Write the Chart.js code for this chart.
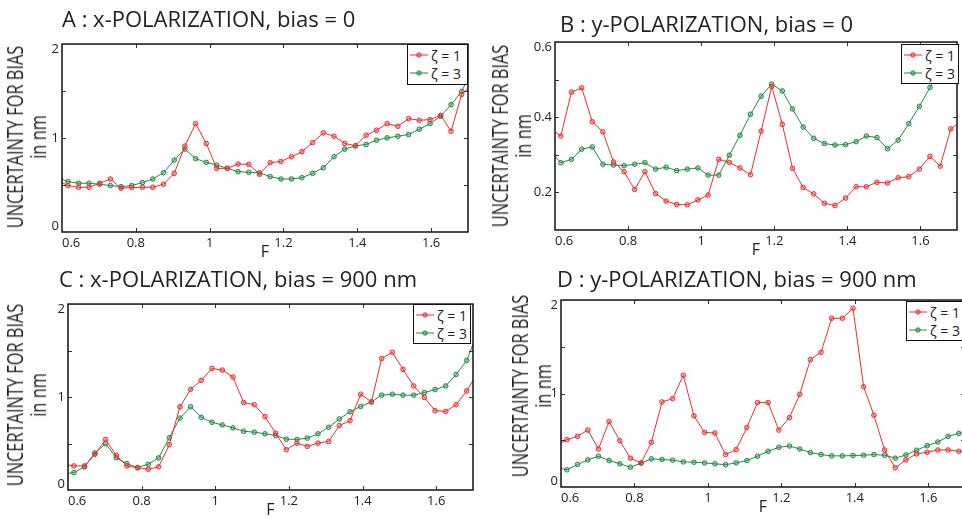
<!DOCTYPE html>
<html>
<head>
<meta charset="utf-8">
<script src="https://cdn.jsdelivr.net/npm/chart.js@4.4.1/dist/chart.umd.min.js"></script>
<style>
  body { margin: 0; background: #fff; }
  #page { position: relative; width: 962px; height: 519px; overflow: hidden; font-family: "Open Sans", sans-serif; color: #222; }
  canvas { position: absolute; }
  .title { position: absolute; font-size: 22px; line-height: 26px; white-space: nowrap; }
  .ylab { position: absolute; width: 0; height: 0; }
  .ylab div { position: absolute; left: 0; top: 0; transform: translate(-50%, -50%) rotate(-90deg) scaleX(0.78); text-align: center; font-size: 21px; line-height: 23px; white-space: nowrap; }
  .legend { position: absolute; background: #fff; border: 1.5px solid #111; box-sizing: border-box; font-size: 14px; padding: 1px 0 0 1px; }
  .legend .row { display: flex; align-items: center; height: 18px; }
  .legend span { margin-left: 2px; }
</style>
</head>
<body>
<div id="page"></div>
<script>
// F grid (same for every panel)
const F = [0.587, 0.616, 0.645, 0.673, 0.702, 0.731, 0.760, 0.789, 0.818, 0.846,
  0.875, 0.904, 0.933, 0.962, 0.991, 1.019, 1.048, 1.077, 1.106, 1.135,
  1.164, 1.193, 1.222, 1.250, 1.279, 1.308, 1.337, 1.366, 1.395, 1.424,
  1.452, 1.481, 1.510, 1.539, 1.568, 1.597, 1.626, 1.654, 1.683, 1.712];

const seriesNames = ["ζ = 1", "ζ = 3"];
const titles = [
  "A : x-POLARIZATION, bias = 0",
  "B : y-POLARIZATION, bias = 0",
  "C : x-POLARIZATION, bias = 900 nm",
  "D : y-POLARIZATION, bias = 900 nm",
];

// A : x-pol, bias 0
const aRed = [0.55, 0.494, 0.476, 0.476, 0.519, 0.564, 0.466, 0.473, 0.476, 0.476,
  0.508, 0.624, 0.914, 1.153, 0.942, 0.677, 0.677, 0.723, 0.720, 0.614,
  0.737, 0.751, 0.801, 0.854, 0.952, 1.055, 1.019, 0.942, 0.917, 1.030,
  1.083, 1.153, 1.125, 1.206, 1.189, 1.196, 1.242, 1.072, 1.464, 1.57];
const aGreen = [0.58, 0.536, 0.519, 0.519, 0.508, 0.494, 0.483, 0.494, 0.526, 0.564,
  0.631, 0.765, 0.882, 0.780, 0.741, 0.712, 0.677, 0.642, 0.635, 0.631,
  0.589, 0.564, 0.564, 0.578, 0.624, 0.684, 0.801, 0.882, 0.917, 0.931,
  0.977, 1.002, 1.019, 1.037, 1.093, 1.153, 1.231, 1.354, 1.496, 1.74];

// B : y-pol, bias 0
const bRed = [0.37, 0.350, 0.467, 0.478, 0.388, 0.361, 0.281, 0.255, 0.208, 0.255,
  0.197, 0.177, 0.168, 0.167, 0.180, 0.193, 0.288, 0.280, 0.265, 0.247,
  0.363, 0.482, 0.381, 0.264, 0.213, 0.196, 0.171, 0.165, 0.185, 0.215,
  0.215, 0.227, 0.225, 0.239, 0.242, 0.262, 0.296, 0.270, 0.369, 0.39];
const bGreen = [0.31, 0.279, 0.288, 0.315, 0.321, 0.275, 0.273, 0.271, 0.275, 0.279,
  0.262, 0.267, 0.258, 0.262, 0.265, 0.246, 0.246, 0.299, 0.352, 0.408,
  0.456, 0.488, 0.470, 0.422, 0.374, 0.344, 0.330, 0.326, 0.327, 0.335,
  0.350, 0.346, 0.316, 0.339, 0.383, 0.429, 0.479, 0.529, 0.565, 0.60];

// C : x-pol, bias 900 nm
const cRed = [0.28, 0.259, 0.259, 0.384, 0.544, 0.373, 0.259, 0.238, 0.224, 0.249,
  0.487, 0.895, 1.083, 1.179, 1.307, 1.290, 1.215, 0.941, 0.917, 0.790,
  0.611, 0.433, 0.504, 0.469, 0.504, 0.522, 0.693, 0.746, 1.030, 0.948,
  1.414, 1.481, 1.297, 1.119, 0.995, 0.853, 0.845, 0.917, 1.066, 1.26];
const cGreen = [0.17, 0.188, 0.249, 0.398, 0.497, 0.348, 0.284, 0.242, 0.277, 0.345,
  0.561, 0.774, 0.895, 0.782, 0.728, 0.700, 0.668, 0.632, 0.622, 0.604,
  0.586, 0.547, 0.544, 0.558, 0.604, 0.675, 0.764, 0.842, 0.899, 0.948,
  1.020, 1.030, 1.020, 1.020, 1.048, 1.080, 1.119, 1.243, 1.393, 1.69];

// D : y-pol, bias 900 nm
const dRed = [0.44, 0.506, 0.542, 0.609, 0.407, 0.701, 0.496, 0.308, 0.258, 0.478,
  0.910, 0.945, 1.196, 0.761, 0.584, 0.577, 0.347, 0.400, 0.637, 0.903,
  0.903, 0.609, 0.743, 0.991, 1.363, 1.441, 1.805, 1.805, 1.912, 1.073,
  0.768, 0.396, 0.205, 0.290, 0.354, 0.372, 0.396, 0.396, 0.382, 0.38];
const dGreen = [0.21, 0.184, 0.241, 0.290, 0.329, 0.283, 0.248, 0.212, 0.255, 0.301,
  0.294, 0.287, 0.269, 0.265, 0.258, 0.248, 0.239, 0.258, 0.283, 0.329,
  0.382, 0.425, 0.439, 0.407, 0.368, 0.347, 0.333, 0.333, 0.336, 0.340,
  0.347, 0.340, 0.308, 0.343, 0.393, 0.442, 0.481, 0.542, 0.573, 0.60];

const xTicks = [0.6, 0.8, 1, 1.2, 1.4, 1.6];
const yTicksBig = [0, 0.5, 1, 1.5, 2];
const yLabelsBig = [0, 1, 2];
const yTicksB = [0.1, 0.2, 0.3, 0.4, 0.5, 0.6];
const yLabelsB = [0.2, 0.4, 0.6];

const RED = "rgb(238, 45, 45)";
const GREEN = "rgb(32, 138, 68)";

Chart.defaults.font.family = "'Open Sans', sans-serif";
Chart.defaults.color = "#222";

const panels = [
  { title: titles[0], red: aRed, green: aGreen, yMin: 0, yMax: 2, yTicks: yTicksBig, yLabels: yLabelsBig,
    box: [0, 30, 480, 232], yW: 62, padTop: 13, padRight: 12, titleAt: [62, 5], yLabAt: [26.5, 137], legendAt: [407, 44, 61, 41] },
  { title: titles[1], red: bRed, green: bGreen, yMin: 0.1, yMax: 0.6, yTicks: yTicksB, yLabels: yLabelsB,
    box: [480, 28, 482, 232], yW: 75, padTop: 14, padRight: 3, titleAt: [560, 10], yLabAt: [512, 136], legendAt: [901, 44, 58, 40] },
  { title: titles[2], red: cRed, green: cGreen, yMin: 0, yMax: 2, yTicks: yTicksBig, yLabels: yLabelsBig,
    box: [0, 290, 480, 230], yW: 68, padTop: 12, padRight: 7, titleAt: [59, 265], yLabAt: [27, 395], legendAt: [413, 304, 58, 40] },
  { title: titles[3], red: dRed, green: dGreen, yMin: 0, yMax: 2, yTicks: yTicksBig, yLabels: yLabelsBig,
    box: [480, 286, 490, 231], yW: 81, padTop: 12, padRight: 5, titleAt: [557, 264.5], yLabAt: [532, 386], legendAt: [906, 301, 58, 40] },
];

const near = (a, b) => Math.abs(a - b) < 1e-6;

// MATLAB-like box with inward ticks on all four sides
const boxPlugin = {
  id: "box",
  afterDraw(chart) {
    const { ctx, chartArea: a, scales } = chart;
    const { x, y } = scales;
    ctx.save();
    ctx.strokeStyle = "#333";
    ctx.lineWidth = 1;
    ctx.beginPath();
    x.ticks.forEach((t) => {
      if (near(t.value, x.max) || near(t.value, x.min)) return;
      const px = Math.round(x.getPixelForValue(t.value)) + 0.5;
      ctx.moveTo(px, a.bottom); ctx.lineTo(px, a.bottom - 4);
      ctx.moveTo(px, a.top); ctx.lineTo(px, a.top + 4);
    });
    y.ticks.forEach((t) => {
      if (near(t.value, y.max) || near(t.value, y.min)) return;
      const py = Math.round(y.getPixelForValue(t.value)) + 0.5;
      ctx.moveTo(a.left, py); ctx.lineTo(a.left + 4, py);
      ctx.moveTo(a.right, py); ctx.lineTo(a.right - 4, py);
    });
    ctx.stroke();
    ctx.strokeStyle = "#111";
    ctx.lineWidth = 1.5;
    ctx.strokeRect(a.left, a.top, a.right - a.left, a.bottom - a.top);
    ctx.restore();
  },
};

function lineSet(label, values, color, fill) {
  return {
    label: label,
    data: F.map((f, i) => ({ x: f, y: values[i] })),
    borderColor: color,
    borderWidth: 1,
    pointRadius: 2.3,
    pointBorderWidth: 1,
    pointBorderColor: color,
    pointBackgroundColor: fill,
    tension: 0,
  };
}

const page = document.getElementById("page");

panels.forEach((p) => {
  const [left, top, w, h] = p.box;
  const canvas = document.createElement("canvas");
  canvas.width = w;
  canvas.height = h;
  canvas.style.left = left + "px";
  canvas.style.top = top + "px";
  page.appendChild(canvas);

  new Chart(canvas.getContext("2d"), {
    type: "line",
    data: {
      datasets: [
        lineSet(seriesNames[0], p.red, RED, "rgba(238, 45, 45, 0.35)"),
        lineSet(seriesNames[1], p.green, GREEN, "rgba(32, 138, 68, 0.35)"),
      ],
    },
    options: {
      responsive: false,
      animation: false,
      layout: { padding: { top: p.padTop, right: p.padRight, left: 0, bottom: 0 } },
      plugins: { legend: { display: false }, tooltip: { enabled: false } },
      scales: {
        x: {
          type: "linear",
          min: 0.6,
          max: 1.7,
          afterBuildTicks: (s) => { s.ticks = [...xTicks, 1.7].map((v) => ({ value: v })); },
          afterFit: (s) => { s.height = 30; },
          grid: { display: false, drawTicks: false },
          border: { display: false },
          ticks: {
            autoSkip: false,
            maxRotation: 0,
            align: "inner",
            padding: 3,
            font: { size: 13 },
            callback: (v) => {
              const hit = xTicks.find((t) => near(t, v));
              return hit === undefined ? "" : String(hit);
            },
          },
          title: { display: true, text: "F", font: { size: 16 }, padding: 0 },
        },
        y: {
          min: p.yMin,
          max: p.yMax,
          afterBuildTicks: (s) => { s.ticks = p.yTicks.map((v) => ({ value: v })); },
          afterFit: (s) => { s.width = p.yW; },
          grid: { display: false, drawTicks: false },
          border: { display: false },
          ticks: {
            padding: 3,
            font: { size: 13, lineHeight: 0.85 },
            callback: (v) => {
              const hit = p.yLabels.find((t) => near(t, v));
              if (hit === undefined) return "";
              const s = String(hit);
              if (near(v, p.yMax)) return ["", s];
              if (near(v, p.yMin)) return [s, ""];
              return s;
            },
          },
        },
      },
    },
    plugins: [boxPlugin],
  });

  // panel title
  const t = document.createElement("div");
  t.className = "title";
  t.style.left = p.titleAt[0] + "px";
  t.style.top = p.titleAt[1] + "px";
  t.textContent = p.title;
  page.appendChild(t);

  // y axis label
  const yl = document.createElement("div");
  yl.className = "ylab";
  yl.style.left = p.yLabAt[0] + "px";
  yl.style.top = p.yLabAt[1] + "px";
  yl.innerHTML = "<div>UNCERTAINTY FOR BIAS<br>in nm</div>";
  page.appendChild(yl);

  // legend box
  const lg = document.createElement("div");
  lg.className = "legend";
  const [lx, ly, lw, lh] = p.legendAt;
  lg.style.cssText = `left:${lx}px;top:${ly}px;width:${lw}px;height:${lh}px`;
  [[seriesNames[0], RED], [seriesNames[1], GREEN]].forEach(([name, col]) => {
    const row = document.createElement("div");
    row.className = "row";
    row.innerHTML =
      `<svg width="20" height="8"><line x1="1" y1="4" x2="19" y2="4" stroke="${col}" stroke-width="1"/>` +
      `<circle cx="10" cy="4" r="2.2" fill="${col}" fill-opacity="0.4" stroke="${col}"/></svg><span>${name}</span>`;
    lg.appendChild(row);
  });
  page.appendChild(lg);
});
</script>
</body>
</html>
